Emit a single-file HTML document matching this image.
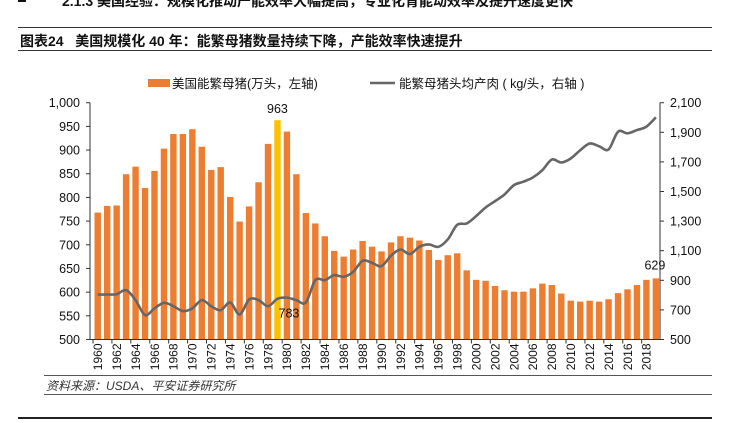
<!DOCTYPE html>
<html><head><meta charset="utf-8"><style>
body{margin:0;background:#fff;width:735px;height:423px;overflow:hidden;position:relative;font-family:"Liberation Sans","Noto Sans CJK SC",sans-serif;}
.abs{position:absolute}
</style></head><body>
<div class="abs" style="left:62px;top:-9px;font-size:14px;font-weight:bold;color:#111;white-space:nowrap">2.1.3 美国经验：规模化推动产能效率大幅提高，专业化育能动效率及提升速度更快</div>
<div class="abs" style="left:18px;top:-4px;width:8px;height:6px;background:#111"></div>
<div class="abs" style="left:18px;top:27px;width:694px;height:1px;background:#333"></div>
<div class="abs" style="left:20px;top:31px;font-size:14px;font-weight:bold;color:#111;white-space:nowrap">图表24&nbsp;&nbsp;&nbsp;美国规模化 40 年：能繁母猪数量持续下降，产能效率快速提升</div>
<div class="abs" style="left:18px;top:50px;width:694px;height:1px;background:#333"></div>
<svg class="abs" style="left:0;top:0" width="735" height="423">
<g id="g"></g>
</svg>
<div class="abs" style="left:44px;top:375px;width:668px;height:1px;background:#555"></div>
<div class="abs" style="left:46px;top:377px;font-size:12px;font-style:italic;color:#333;white-space:nowrap">资料来源：USDA、平安证券研究所</div>
<div class="abs" style="left:44px;top:394px;width:668px;height:1px;background:#555"></div>
<div class="abs" style="left:18px;top:417px;width:694px;height:2px;background:#222"></div>
<script>
const years=[];for(let y=1960;y<=2019;y++)years.push(y);
const sows=[768,782,783,849,865,820,856,903,934,934,944,907,858,864,801,749,781,832,913,963,939,849,767,745,718,687,675,690,708,696,686,705,718,715,709,689,668,678,682,646,626,624,613,604,601,601,608,618,615,597,582,580,582,580,585,598,606,615,626,629];
const meat=[804,804,806,833,766,665,710,748,725,692,710,766,725,698,750,669,770,766,725,775,783,766,750,901,901,935,924,957,1032,1018,996,1066,1108,1077,1126,1142,1126,1176,1275,1284,1334,1392,1435,1480,1543,1566,1595,1644,1716,1696,1723,1779,1824,1806,1784,1904,1893,1915,1938,2001];
const leftTicks=[500,550,600,650,700,750,800,850,900,950,1000];
const rightTicks=[500,700,900,1100,1300,1500,1700,1900,2100];
const NS='http://www.w3.org/2000/svg';
const g=document.getElementById('g');
const x0=93,bw=9.46,yB=339.5,yT=102.7;
const xc=i=>x0+bw*(i+0.5);
const yL=v=>yB-(v-500)/500*(yB-yT);
const yR=v=>yB-(v-500)/1600*(yB-yT);
function mk(t,a){const e=document.createElementNS(NS,t);for(const k in a)e.setAttribute(k,a[k]);g.appendChild(e);return e;}
sows.forEach((v,i)=>{const r=mk('rect',{x:xc(i)-3.2,y:yL(v),width:6.4,height:yB-yL(v),fill:years[i]===1979?'#FFC000':'#ED7D31'});

});
let d='';
const pts=meat.map((v,i)=>[xc(i),yR(v)]);
d='M'+pts[0][0]+','+pts[0][1];
for(let i=0;i<pts.length-1;i++){const p0=pts[Math.max(0,i-1)],p1=pts[i],p2=pts[i+1],p3=pts[Math.min(pts.length-1,i+2)];
d+=` C${p1[0]+(p2[0]-p0[0])/6},${p1[1]+(p2[1]-p0[1])/6} ${p2[0]-(p3[0]-p1[0])/6},${p2[1]-(p3[1]-p1[1])/6} ${p2[0]},${p2[1]}`;}
const ln=mk('path',{d:d,fill:'none',stroke:'#666',"stroke-width":2.6});


const la=mk('line',{x1:90,y1:yT,x2:90,y2:yB,stroke:'#333'});


const ra=mk('line',{x1:660,y1:yT,x2:660,y2:yB,stroke:'#333'});


const xa=mk('line',{x1:90,y1:yB,x2:660,y2:yB,stroke:'#333'});


leftTicks.forEach(v=>{mk('line',{x1:86,y1:yL(v),x2:90,y2:yL(v),stroke:'#333'});
const t=mk('text',{x:80,y:yL(v)+4.5,"text-anchor":'end',"font-size":12.5,fill:'#111'});t.textContent=v.toLocaleString('en-US');

});
rightTicks.forEach(v=>{mk('line',{x1:660,y1:yR(v),x2:664,y2:yR(v),stroke:'#333'});
const t=mk('text',{x:670,y:yR(v)+4.5,"font-size":12.5,fill:'#111'});t.textContent=v.toLocaleString('en-US');

});
years.forEach((y,i)=>{if(i%2===0){mk('line',{x1:x0+bw*i,y1:yB,x2:x0+bw*i,y2:yB+4,stroke:'#333'});
const t=mk('text',{x:0,y:0,"font-size":12,fill:'#111',"text-anchor":'end',transform:`translate(${xc(i)+4.3},${yB+4}) rotate(-90)`});t.textContent=y;

}});
function lab(txt,x,y,name){const t=mk('text',{x:x,y:y,"font-size":12.5,fill:'#111',"text-anchor":'middle'});t.textContent=txt;

}
lab(String(sows[19]),xc(19),yL(sows[19])-7,'peak-label');
lab(String(meat[20]),xc(20)+2,yR(meat[20])+20,'meat-1979-label');
lab(String(sows[59]),xc(59)-1,yL(sows[59])-9,'last-bar-label');
const lr=mk('rect',{x:148,y:79,width:22,height:8,fill:'#ED7D31'});


const l1=mk('text',{x:172,y:88,"font-size":12.5,fill:'#111'});l1.textContent='美国能繁母猪(万头，左轴)';


const ll=mk('line',{x1:370,y1:83,x2:395,y2:83,stroke:'#666',"stroke-width":2.6});


const l2=mk('text',{x:399,y:88,"font-size":12.5,fill:'#111'});l2.textContent='能繁母猪头均产肉 ( kg/头，右轴 )';


</script>
</body></html>
